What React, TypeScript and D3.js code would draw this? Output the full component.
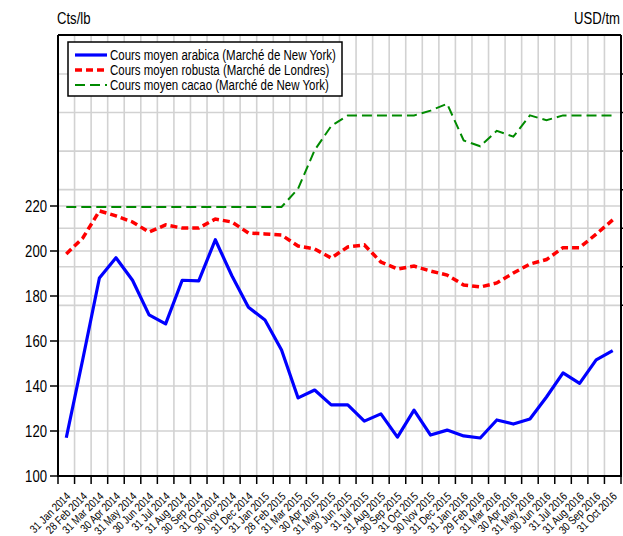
import React from "react";
import * as d3 from "d3";

const months = [
  "31 Jan 2014", "28 Feb 2014", "31 Mar 2014", "30 Apr 2014", "31 May 2014", "30 Jun 2014",
  "31 Jul 2014", "31 Aug 2014", "30 Sep 2014", "31 Oct 2014", "30 Nov 2014", "31 Dec 2014",
  "31 Jan 2015", "28 Feb 2015", "31 Mar 2015", "30 Apr 2015", "31 May 2015", "30 Jun 2015",
  "31 Jul 2015", "31 Aug 2015", "30 Sep 2015", "31 Oct 2015", "30 Nov 2015", "31 Dec 2015",
  "31 Jan 2016", "29 Feb 2016", "31 Mar 2016", "30 Apr 2016", "31 May 2016", "30 Jun 2016",
  "31 Jul 2016", "31 Aug 2016", "30 Sep 2016", "31 Oct 2016",
];

// Cts/lb (left axis)
const arabica = [
  117, 152, 188, 197, 187, 171.6, 167.6, 187, 186.7, 205, 189, 175,
  169.3, 156, 134.7, 138.2, 131.6, 131.6, 124.4, 127.6, 117.3, 129.3, 118.2, 120.4,
  117.8, 116.9, 124.9, 123.1, 125.3, 135.1, 145.8, 141.2, 151.6, 155.7,
];
const robusta = [
  198.7, 205.8, 217.8, 215.6, 212.9, 208.4, 211.6, 210.2, 210.2, 214.2, 212.9, 208,
  207.6, 207.1, 202.2, 200.9, 196.9, 201.8, 202.7, 195.1, 192, 193.3, 191.1, 189.3,
  184.9, 184, 185.8, 190.2, 194.2, 196.2, 201.5, 201.5, 207.5, 213.8,
];
// USD/tm (right axis)
const cacao = [
  2510, 2510, 2510, 2510, 2510, 2510, 2510, 2510, 2510, 2510, 2510, 2510,
  2510, 2510, 2605, 2805, 2930, 2985, 2985, 2985, 2985, 2985, 3010, 3045,
  2855, 2825, 2905, 2875, 2985, 2960, 2985, 2985, 2985, 2985,
];

const leftTicks = [100, 120, 140, 160, 180, 200, 220];
const rightTicks = [2000, 2200, 2400, 2600, 2800, 3000, 3200];

const legendItems = [
  { label: "Cours moyen arabica (Marché de New York)", color: "#0000ff", width: 3.2, dash: "" },
  { label: "Cours moyen robusta (Marché de Londres)", color: "#ff0000", width: 3.5, dash: "7,4" },
  { label: "Cours moyen cacao (Marché de New York)", color: "#008a00", width: 2, dash: "10,5" },
];

const W = 623;
const H = 536;
const M = { left: 58, right: 621, top: 35, bottom: 476 };
const FONT = "'Liberation Sans', Arial, sans-serif";
const NARROW = 0.82;

export default function App() {
  const x = d3.scaleBand<string>().domain(months).range([M.left, M.right]).padding(0);
  const bw = x.bandwidth();
  const cx = (i: number) => (x(months[i]) as number) + bw / 2;
  const yL = d3.scaleLinear().domain([100, 296]).range([M.bottom, M.top]);
  const yR = d3.scaleLinear().domain([1115, 3402]).range([M.bottom, M.top]);

  const edges = months.map((m) => x(m) as number).concat([M.right]);

  const lineL = d3.line<number>().x((_, i) => cx(i)).y((d) => yL(d));
  const lineR = d3.line<number>().x((_, i) => cx(i)).y((d) => yR(d));

  const grid = "#d2d2d2";

  return (
    <svg width={W} height={H} style={{ position: "absolute", left: 0, top: 0, background: "#fff" }}
      fontFamily={FONT}>
      <rect x={0} y={0} width={W} height={H} fill="#fff" />
      {/* unit labels */}
      <g transform={`translate(57,24) scale(${NARROW},1)`}>
        <text x={0} y={0} fontSize={16} fill="#000">Cts/lb</text>
      </g>
      <g transform={`translate(620,24) scale(${NARROW},1)`}>
        <text x={0} y={0} fontSize={16} fill="#000" textAnchor="end">USD/tm</text>
      </g>

      {/* vertical gridlines */}
      {edges.slice(1, -1).map((e, i) => (
        <line key={"vg" + i} x1={e} x2={e} y1={M.top} y2={M.bottom} stroke={grid} strokeWidth={1.6} />
      ))}
      {/* horizontal gridlines left */}
      {leftTicks.slice(1).map((t) => (
        <line key={"hl" + t} x1={M.left} x2={M.right} y1={yL(t)} y2={yL(t)} stroke={grid} strokeWidth={1.6} />
      ))}
      {/* horizontal gridlines right */}
      {rightTicks.map((t) => (
        <line key={"hr" + t} x1={M.left} x2={M.right} y1={yR(t)} y2={yR(t)} stroke={grid} strokeWidth={1.6} />
      ))}

      {/* series */}
      <path d={lineR(cacao) || ""} fill="none" stroke="#008a00" strokeWidth={2} strokeDasharray="10,5" />
      <path d={lineL(robusta) || ""} fill="none" stroke="#ff0000" strokeWidth={3.5} strokeDasharray="7,4" />
      <path d={lineL(arabica) || ""} fill="none" stroke="#0000ff" strokeWidth={3.2} strokeLinejoin="round" />

      {/* frame */}
      <line x1={M.left} x2={M.right} y1={M.top} y2={M.top} stroke="#000" strokeWidth={2} />
      <line x1={M.right} x2={M.right} y1={M.top} y2={M.bottom} stroke="#000" strokeWidth={2} />
      <line x1={M.left} x2={M.left} y1={M.top} y2={M.bottom + 1} stroke="#000" strokeWidth={2} />
      <line x1={M.left - 1} x2={M.right + 1} y1={M.bottom} y2={M.bottom} stroke="#000" strokeWidth={2} />

      {/* left axis ticks + labels */}
      {leftTicks.map((t) => (
        <g key={"lt" + t}>
          <line x1={M.left - 8} x2={M.left} y1={yL(t)} y2={yL(t)} stroke="#000" strokeWidth={1.5} />
          <g transform={`translate(${M.left - 11},${yL(t)}) scale(${NARROW},1)`}>
            <text x={0} y={0} dy="0.36em" textAnchor="end" fontSize={16} fill="#000">{t}</text>
          </g>
        </g>
      ))}
      {/* right axis ticks */}
      {rightTicks.map((t) => (
        <line key={"rt" + t} x1={M.right} x2={M.right + 6} y1={yR(t)} y2={yR(t)} stroke="#000" strokeWidth={1.5} />
      ))}

      {/* bottom ticks */}
      {edges.map((e, i) => (
        <line key={"bt" + i} x1={e} x2={e} y1={M.bottom} y2={M.bottom + 8} stroke="#000" strokeWidth={1.5} />
      ))}
      {months.map((m, i) => (
        <g key={"xl" + i} transform={`translate(${cx(i) + 5},${M.bottom + 21}) rotate(-45) scale(${NARROW},1)`}>
          <text x={0} y={0} textAnchor="end" fontSize={11.5} fill="#000">{m}</text>
        </g>
      ))}

      {/* legend */}
      <g>
        <rect x={68} y={42} width={274} height={54} fill="#fff" stroke="#000" strokeWidth={1.5} />
        {legendItems.map((it, i) => (
          <g key={"lg" + i}>
            <line x1={75} x2={107} y1={55 + i * 15} y2={55 + i * 15} stroke={it.color}
              strokeWidth={it.width} strokeDasharray={it.dash || undefined} />
            <g transform={`translate(110,${55 + i * 15}) scale(${NARROW},1)`}>
              <text x={0} y={0} dy="0.36em" fontSize={14} fill="#000">{it.label}</text>
            </g>
          </g>
        ))}
      </g>
    </svg>
  );
}
